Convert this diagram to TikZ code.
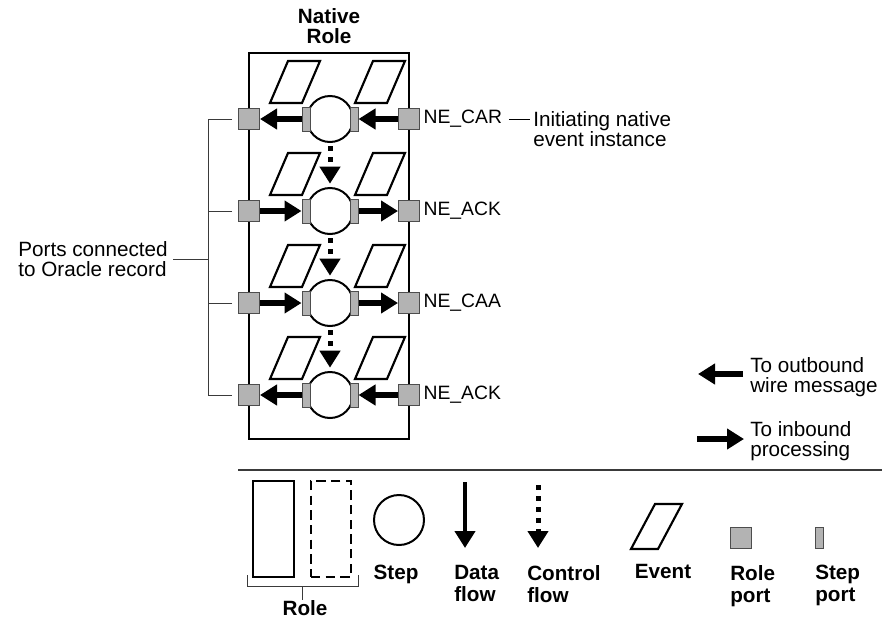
\documentclass[tikz,border=0pt]{standalone}
\usepackage{fontspec}
\setmainfont{Liberation Sans}
\usetikzlibrary{arrows.meta}
\definecolor{portgray}{HTML}{B3B3B3}
\definecolor{portedge}{HTML}{4D4D4D}
\definecolor{leadgray}{HTML}{3A3A3A}
\newcommand\diagfont{\fontsize{15.5}{15}\selectfont}
\newcommand\nefont{\fontsize{14.5}{15}\selectfont}
\newcommand\legfont{\fontsize{15.5}{16.5}\selectfont\bfseries}

\begin{document}
\begin{tikzpicture}[x=.75pt,y=-.75pt,line join=miter,
  font=\diagfont,
  rolebox/.style={draw,line width=1.8pt,inner sep=0pt},
  roleport/.style={draw=portedge,fill=portgray,line width=.75pt,
    minimum size=15.75pt,inner sep=0pt},
  stepport/.style={draw=portedge,fill=portgray,line width=.75pt,
    minimum width=6pt,minimum height=18pt,inner sep=0pt},
  stepnode/.style={circle,draw,line width=1.5pt,fill=white,
    minimum size=34.5pt,inner sep=0pt},
  event/.style={draw,line width=1.6pt,fill=white},
  dataflow/.style={line width=4.5pt,-{Triangle[length=12.75pt,width=15pt]}},
  ctrlflow/.style={line width=3.75pt,dash pattern=on 3.75pt off 4.5pt,
    -{Triangle[length=12.75pt,width=15pt]}},
  bracket/.style={draw=leadgray,line width=.75pt},
  note/.style={align=left,inner sep=0pt},
  leglabel/.style={font=\legfont,align=left,inner sep=0pt}]
\path[use as bounding box] (0,0) rectangle (882,618);

% Native role with its four rows of ports and steps
\node[rolebox,minimum width=120pt,minimum height=289.5pt] (native) at (329,246) {};
\node[font=\diagfont\bfseries,align=center] (nativetitle) at (329,26) {Native\\Role};

\foreach \r/\y in {1/119,2/211,3/303,4/395}{
  \draw[event] (270,\y-16) -- ++(32,0) -- ++(18,-42) -- ++(-32,0) -- cycle;
  \draw[event] (355,\y-16) -- ++(32,0) -- ++(18,-42) -- ++(-32,0) -- cycle;
  \node[stepnode] (st\r) at (330,\y) {};
  \node[stepport] (sl\r) at (st\r.west) {};
  \node[stepport] (sr\r) at (st\r.east) {};
  \node[roleport] (lp\r) at (249,\y) {};
  \node[roleport] (rp\r) at (409,\y) {};
}
\foreach \r/\ne in {1/NE\_CAR,2/NE\_ACK,3/NE\_CAA,4/NE\_ACK}
  \node[anchor=west,inner sep=2.5pt,font=\nefont] (ne\r) at (rp\r.east) {\ne};

% data flow between step ports and role ports
\draw[dataflow] (sl1.west) -- (lp1.east);
\draw[dataflow] (rp1.west) -- (sr1.east);
\foreach \r in {2,3}{
  \draw[dataflow] (lp\r.east) -- (sl\r.west);
  \draw[dataflow] (sr\r.east) -- (rp\r.west);
}
\draw[dataflow] (sl4.west) -- (lp4.east);
\draw[dataflow] (rp4.west) -- (sr4.east);

% control flow from step to step
\foreach \a/\b in {1/2,2/3,3/4}
  \draw[ctrlflow,shorten <=2.5pt,shorten >=2.5pt] (st\a.south) -- (st\b.north);

% ports tied to the Oracle record
\coordinate (brk) at (208,119);
\draw[bracket,shorten <=4.5pt] (lp1.west) -- (lp1.west -| brk) |- ([xshift=-4.5pt]lp4.west);
\draw[bracket,shorten <=4.5pt] (lp2.west) -- (lp2.west -| brk);
\draw[bracket,shorten <=4.5pt] (lp3.west) -- (lp3.west -| brk);
\node[note,anchor=east] (portsnote) at (168,259) {Ports connected\\to Oracle record};
\draw[bracket,shorten <=4pt] (portsnote.east) -- (portsnote.east -| brk);

\node[note,anchor=west] (initnote) at (533,129) {Initiating native\\event instance};
\draw[line width=.75pt,shorten <=2.5pt,shorten >=2.5pt] (ne1.east) -- (ne1.east -| initnote.west);

% direction key
\node[note,anchor=west] (outnote) at (750,377) {To outbound\\wire message};
\coordinate (outtip) at (698,374);
\draw[dataflow] (outnote.west |- outtip) ++(-7,0) -- (outtip);
\node[note,anchor=west] (innote) at (750,441) {To inbound\\processing};
\coordinate (intail) at (697,439);
\draw[dataflow] (intail) -- ([xshift=-4.5pt]innote.west |- intail);

% legend
\coordinate (sepl) at (238,470);
\coordinate (sepr) at (882,470);
\draw[line width=.9pt,leadgray] (sepl) -- (sepr);

\node[rolebox,line width=1.5pt,minimum width=30.75pt,minimum height=72pt] (legrole) at (273.5,529) {};
\node[rolebox,line width=1.5pt,dash pattern=on 7pt off 4pt,
  minimum width=30pt,minimum height=72pt] (legvirt) at (331,529) {};
\node[leglabel,anchor=north] (rolelabel) at (305,600) {Role};
\draw[bracket] (247,575) |- (358,586) -- (358,575);
\draw[bracket] (302,586) -- (rolelabel.north -| 302,0);

\node[stepnode,minimum size=37.5pt] (legstep) at (399,520) {};
\node[leglabel,anchor=north] (steplabel) at (396,565) {Step};

\coordinate (dfa) at (465,482);
\coordinate (dfb) at (465,548);
\draw[dataflow,line width=3.4pt] (dfa) -- (dfb);
\node[leglabel,anchor=north west] (datalabel) at (454,565) {Data\\flow};

\coordinate (cfa) at (538,485);
\coordinate (cfb) at (538,548);
\draw[ctrlflow] (cfa) -- (cfb);
\node[leglabel,anchor=north west] (ctrllabel) at (527,565) {Control\\flow};

\draw[event] (631,549) -- ++(27,0) -- ++(24,-45) -- ++(-27,0) -- cycle;
\node[leglabel,anchor=north] (eventlabel) at (663,564) {Event};

\node[roleport] (legrp) at (740.5,537.5) {};
\node[leglabel,anchor=north west] (rplabel) at (730,565) {Role\\port};

\node[stepport,minimum height=15.75pt] (legsp) at (819,537.5) {};
\node[leglabel,anchor=north west] (splabel) at (815,565) {Step\\port};
\end{tikzpicture}
\end{document}
